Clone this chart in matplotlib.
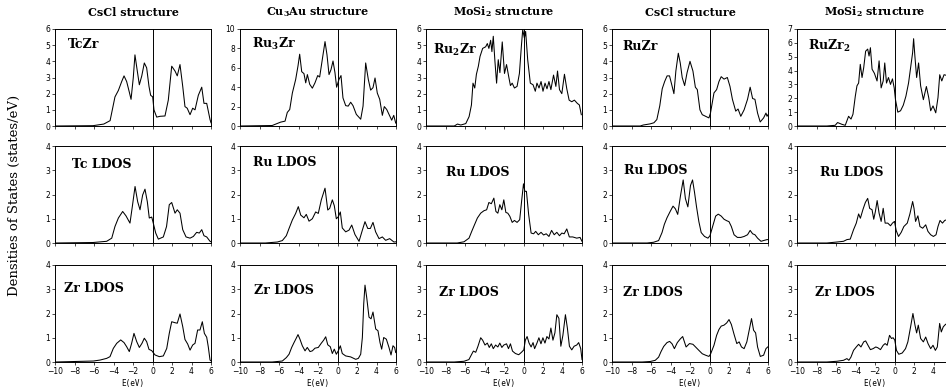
import matplotlib
matplotlib.use("Agg")
import matplotlib.pyplot as plt

plt.rcParams['mathtext.fontset'] = 'dejavuserif'

# ---------------- text ----------------
col_titles = ['CsCl structure', r'Cu$_\mathbf{3}$Au structure', r'MoSi$_\mathbf{2}$ structure',
              'CsCl structure', r'MoSi$_\mathbf{2}$ structure']
total_labels = ['TcZr', r'Ru$_\mathbf{3}$Zr', r'Ru$_\mathbf{2}$Zr', 'RuZr', r'RuZr$_\mathbf{2}$']
ldos_a_labels = ['Tc LDOS', 'Ru LDOS', 'Ru LDOS', 'Ru LDOS', 'Ru LDOS']
ldos_b_labels = ['Zr LDOS', 'Zr LDOS', 'Zr LDOS', 'Zr LDOS', 'Zr LDOS']
y_label = 'Densities of States (states/eV)'
x_label = 'E(eV)'

total_ymax = [6, 10, 6, 6, 7]
total_ystep = [1, 2, 1, 1, 1]
ldos_ymax = 4
x_ticks = [-10, -8, -6, -4, -2, 0, 2, 4, 6]

# ---------------- data: (E [eV], DOS [states/eV]) ----------------
tczr_total = [(-10, 0), (-6.1, 0.02), (-5.0, 0.12), (-4.35, 0.33), (-3.85, 1.8), (-3.5, 2.2), (-3.16, 2.75),
              (-2.92, 3.1), (-2.65, 2.75), (-2.38, 2.1), (-2.2, 1.65), (-1.97, 3.0), (-1.8, 4.4), (-1.56, 3.4),
              (-1.35, 2.55), (-1.1, 3.1), (-0.84, 3.9), (-0.6, 3.6), (-0.36, 2.45), (-0.19, 1.9), (0.02, 1.8),
              (0.15, 1.0), (0.43, 0.55), (0.77, 0.6), (1.28, 0.62), (1.62, 1.6), (1.97, 3.7), (2.31, 3.4),
              (2.54, 3.1), (2.82, 3.8), (3.1, 2.45), (3.33, 1.2), (3.56, 1.1), (3.85, 0.7), (4.12, 1.1),
              (4.36, 1.0), (4.7, 1.9), (5.05, 2.4), (5.28, 1.4), (5.56, 1.4), (5.9, 0.4), (6.0, 0.2)]
ru3zr_total = [(-10, 0), (-6.7, 0.05), (-5.83, 0.4), (-5.38, 0.5), (-5.15, 1.4), (-4.9, 1.7), (-4.63, 3.4),
               (-4.29, 4.8), (-4.05, 6.2), (-3.88, 7.4), (-3.67, 5.6), (-3.44, 5.4), (-3.26, 4.45), (-3.09, 5.3),
               (-2.85, 4.3), (-2.58, 3.9), (-2.31, 4.45), (-2.03, 5.2), (-1.83, 5.05), (-1.56, 6.85),
               (-1.28, 8.7), (-1.08, 7.35), (-0.87, 5.3), (-0.67, 5.8), (-0.46, 6.7), (-0.26, 5.5),
               (-0.09, 4.0), (0.15, 4.8), (0.36, 5.2), (0.56, 2.9), (0.84, 2.1), (1.1, 2.05), (1.35, 2.45),
               (1.59, 2.1), (1.93, 1.2), (2.38, 0.7), (2.62, 2.05), (2.89, 6.5), (3.16, 4.8), (3.4, 3.7),
               (3.64, 3.95), (3.85, 4.95), (4.08, 3.4), (4.33, 2.75), (4.6, 1.1), (4.8, 2.0), (5.05, 1.7),
               (5.28, 1.2), (5.56, 0.6), (5.77, 1.1), (5.97, 0.3)]
ru2zr_total = [(-10, 0), (-7.1, 0), (-6.77, 0.12), (-6.43, 0.06), (-5.92, 0.15), (-5.58, 0.58), (-5.34, 1.3),
               (-5.18, 2.65), (-5.0, 2.35), (-4.83, 3.2), (-4.63, 3.7), (-4.46, 4.3), (-4.19, 4.8),
               (-3.88, 4.9), (-3.71, 5.1), (-3.55, 4.8), (-3.37, 5.3), (-3.24, 4.6), (-3.1, 5.55),
               (-2.93, 4.0), (-2.76, 2.65), (-2.59, 4.1), (-2.42, 3.3), (-2.18, 5.2), (-1.95, 3.25),
               (-1.74, 3.8), (-1.5, 3.0), (-1.34, 2.5), (-1.16, 2.65), (-0.93, 2.35), (-0.66, 2.45),
               (-0.42, 3.25), (-0.21, 5.0), (-0.08, 5.95), (0.09, 5.45), (0.22, 5.85), (0.43, 4.1),
               (0.7, 2.65), (0.98, 2.55), (1.21, 2.15), (1.38, 2.65), (1.59, 2.35), (1.8, 2.75), (2.0, 2.15),
               (2.21, 2.65), (2.41, 2.3), (2.61, 2.75), (2.81, 2.25), (3.08, 3.15), (3.32, 2.45), (3.49, 3.4),
               (3.69, 2.25), (3.93, 2.0), (4.2, 3.2), (4.44, 2.3), (4.68, 1.6), (4.95, 1.5), (5.22, 1.6),
               (5.52, 1.4), (5.73, 1.3), (5.93, 0.7)]
ruzr_total = [(-10, 0), (-7.1, 0), (-6.8, 0.06), (-6.1, 0.13), (-5.7, 0.2), (-5.4, 0.4), (-5.1, 1.25),
              (-4.85, 2.3), (-4.6, 2.75), (-4.35, 3.1), (-4.1, 3.1), (-3.85, 2.5), (-3.65, 2.0), (-3.45, 3.4),
              (-3.2, 4.5), (-3.0, 3.9), (-2.8, 3.0), (-2.55, 2.5), (-2.3, 3.3), (-2.0, 4.0), (-1.7, 3.4),
              (-1.45, 2.4), (-1.25, 2.25), (-0.98, 1.0), (-0.74, 0.7), (-0.4, 0.6), (-0.06, 0.5), (0.1, 0.8),
              (0.46, 2.05), (0.73, 2.25), (0.97, 2.75), (1.2, 3.05), (1.49, 2.9), (1.83, 3.0), (2.1, 2.45),
              (2.35, 1.65), (2.69, 0.92), (2.93, 1.05), (3.21, 0.6), (3.55, 1.0), (3.9, 1.65), (4.17, 2.4),
              (4.42, 1.7), (4.66, 1.65), (4.93, 0.8), (5.2, 0.25), (5.55, 0.5), (5.79, 0.8), (5.9, 0.6),
              (6.0, 0.7)]
ruzr2_total = [(-10, 0), (-6.94, 0), (-6.08, 0.05), (-5.84, 0.25), (-5.39, 0.12), (-5.05, 0.05), (-4.71, 0.7),
               (-4.46, 0.5), (-4.26, 0.85), (-4.02, 2.15), (-3.85, 2.9), (-3.68, 3.1), (-3.51, 4.45),
               (-3.33, 3.5), (-3.16, 4.2), (-2.96, 5.4), (-2.75, 5.55), (-2.61, 5.05), (-2.47, 5.65),
               (-2.3, 4.1), (-2.06, 3.8), (-1.79, 3.25), (-1.58, 4.7), (-1.37, 2.75), (-1.16, 3.25),
               (-1.0, 4.55), (-0.82, 3.1), (-0.62, 3.5), (-0.41, 3.0), (-0.21, 3.4), (-0.03, 2.75), (0.1, 1.9),
               (0.34, 1.0), (0.62, 1.1), (0.9, 1.5), (1.17, 2.15), (1.44, 3.1), (1.65, 4.2), (1.86, 5.3),
               (1.96, 6.3), (2.09, 5.05), (2.27, 3.5), (2.47, 4.55), (2.68, 2.9), (2.96, 1.9), (3.27, 2.85),
               (3.51, 2.05), (3.71, 1.1), (3.95, 1.45), (4.23, 0.95), (4.46, 2.05), (4.64, 3.7), (4.85, 3.25),
               (5.08, 3.7), (5.36, 3.65), (5.7, 3.3), (6.0, 2.8)]

tc_ldos_tczr = [(-10, 0), (-6.1, 0.02), (-4.7, 0.07), (-4.18, 0.2), (-3.85, 0.68), (-3.5, 1.03), (-3.06, 1.3),
                (-2.72, 1.12), (-2.31, 0.82), (-2.07, 1.5), (-1.79, 2.33), (-1.52, 1.7), (-1.28, 1.37),
                (-1.01, 1.98), (-0.77, 2.22), (-0.53, 1.7), (-0.33, 1.03), (-0.08, 1.07), (0.08, 0.82),
                (0.33, 0.41), (0.6, 0.16), (1.11, 0.25), (1.44, 0.68), (1.72, 1.58), (1.97, 1.67), (2.31, 1.23),
                (2.54, 1.37), (2.82, 1.23), (3.1, 0.55), (3.44, 0.25), (3.85, 0.2), (4.19, 0.27), (4.53, 0.44),
                (4.8, 0.41), (5.05, 0.55), (5.28, 0.3), (5.56, 0.25), (5.9, 0.07), (6.0, 0.05)]
ru_ldos_ru3zr = [(-10, 0), (-7.4, 0), (-6.17, 0.04), (-5.66, 0.1), (-5.25, 0.3), (-4.97, 0.6), (-4.63, 0.95),
                 (-4.29, 1.22), (-4.02, 1.5), (-3.77, 1.15), (-3.44, 1.04), (-3.2, 1.18), (-2.92, 0.9),
                 (-2.58, 1.0), (-2.24, 1.28), (-1.97, 1.22), (-1.66, 1.78), (-1.28, 2.26), (-1.0, 1.36),
                 (-0.8, 1.43), (-0.53, 1.78), (-0.33, 1.54), (-0.12, 1.0), (0.08, 1.08), (0.29, 1.28),
                 (0.49, 0.62), (0.84, 0.46), (1.18, 0.53), (1.46, 0.74), (1.79, 0.35), (2.21, 0.07),
                 (2.55, 0.53), (2.82, 0.88), (3.1, 0.6), (3.37, 0.6), (3.64, 0.85), (3.91, 0.46), (4.26, 0.18),
                 (4.6, 0.25), (4.94, 0.11), (5.35, 0.18), (5.79, 0.04), (6.0, 0.05)]
ru_ldos_ru2zr = [(-10, 0), (-6.8, 0), (-6.1, 0.05), (-5.59, 0.2), (-5.31, 0.48), (-5.07, 0.71), (-4.73, 1.03),
                 (-4.39, 1.23), (-4.06, 1.33), (-3.78, 1.37), (-3.55, 1.67), (-3.3, 1.62), (-3.04, 1.85),
                 (-2.83, 1.3), (-2.63, 1.23), (-2.43, 1.58), (-2.22, 1.37), (-2.02, 1.78), (-1.81, 1.26),
                 (-1.61, 1.23), (-1.4, 1.1), (-1.16, 0.85), (-0.93, 0.93), (-0.66, 0.85), (-0.39, 0.96),
                 (-0.18, 1.78), (0.0, 2.44), (0.14, 2.13), (0.3, 2.13), (0.53, 1.17), (0.78, 0.41), (1.04, 0.38),
                 (1.25, 0.48), (1.52, 0.34), (1.8, 0.44), (2.06, 0.33), (2.33, 0.38), (2.61, 0.27), (2.88, 0.52),
                 (3.15, 0.34), (3.42, 0.44), (3.69, 0.3), (3.93, 0.41), (4.17, 0.38), (4.44, 0.58), (4.7, 0.25),
                 (5.05, 0.25), (5.46, 0.2), (5.8, 0.23), (6.0, 0.07)]
ru_ldos_ruzr = [(-10, 0), (-6.4, 0), (-5.74, 0.03), (-5.22, 0.1), (-4.87, 0.43), (-4.63, 0.77), (-4.36, 1.04),
                (-4.01, 1.32), (-3.74, 1.52), (-3.5, 1.41), (-3.26, 1.18), (-2.98, 1.94), (-2.7, 2.6),
                (-2.47, 1.83), (-2.22, 1.49), (-1.95, 2.37), (-1.74, 2.6), (-1.54, 2.1), (-1.33, 1.49),
                (-1.09, 0.88), (-0.85, 0.43), (-0.51, 0.27), (-0.16, 0.2), (0.05, 0.3), (0.32, 0.68),
                (0.63, 1.11), (0.9, 1.19), (1.2, 1.11), (1.49, 0.98), (1.76, 0.92), (2.0, 0.88), (2.24, 0.68),
                (2.52, 0.34), (2.86, 0.23), (3.21, 0.23), (3.55, 0.27), (3.9, 0.34), (4.17, 0.52), (4.42, 0.38),
                (4.66, 0.34), (4.93, 0.2), (5.28, 0.07), (5.62, 0.11), (5.9, 0.14), (6.0, 0.14)]
ru_ldos_ruzr2 = [(-10, 0), (-6.94, 0), (-5.91, 0.04), (-5.23, 0.07), (-4.88, 0.14), (-4.54, 0.16), (-4.2, 0.55),
                 (-3.92, 0.82), (-3.68, 1.2), (-3.5, 1.02), (-3.23, 1.39), (-2.99, 1.67), (-2.75, 1.84),
                 (-2.55, 1.43), (-2.3, 1.37), (-2.13, 0.98), (-1.96, 1.3), (-1.78, 1.75), (-1.58, 1.23),
                 (-1.37, 0.89), (-1.16, 1.43), (-0.96, 0.82), (-0.69, 0.82), (-0.41, 0.71), (-0.21, 0.82),
                 (0.0, 0.89), (0.17, 0.52), (0.41, 0.27), (0.69, 0.44), (0.96, 0.68), (1.31, 0.82), (1.58, 1.2),
                 (1.86, 1.71), (2.0, 1.43), (2.16, 0.89), (2.4, 1.12), (2.61, 0.68), (2.89, 0.61), (3.2, 0.75),
                 (3.43, 0.48), (3.71, 0.34), (3.99, 0.27), (4.26, 0.34), (4.46, 0.68), (4.67, 0.93), (4.92, 0.82),
                 (5.15, 0.93), (5.36, 0.96), (5.7, 0.9), (6.0, 0.8)]

zr_ldos_tczr = [(-10, 0), (-6.07, 0.04), (-5.38, 0.08), (-4.7, 0.15), (-4.36, 0.22), (-4.02, 0.56), (-3.67, 0.77),
                (-3.26, 0.91), (-2.92, 0.8), (-2.65, 0.63), (-2.38, 0.43), (-2.14, 0.77), (-1.9, 1.18),
                (-1.62, 0.84), (-1.35, 0.6), (-1.08, 0.77), (-0.84, 0.98), (-0.6, 0.84), (-0.36, 0.52),
                (-0.08, 0.47), (0.26, 0.29), (0.7, 0.22), (1.11, 0.25), (1.46, 0.56), (1.72, 1.18), (1.97, 1.66),
                (2.31, 1.62), (2.54, 1.6), (2.82, 1.98), (3.1, 1.46), (3.33, 0.93), (3.61, 0.74), (3.85, 0.49),
                (4.12, 0.7), (4.36, 0.77), (4.63, 1.32), (4.87, 1.32), (5.11, 1.66), (5.32, 1.18), (5.56, 1.02),
                (5.72, 0.63), (5.9, 0.08), (6.0, 0.05)]
zr_ldos_ru3zr = [(-10, 0), (-6.7, 0), (-5.66, 0.04), (-5.25, 0.18), (-4.97, 0.32), (-4.7, 0.6), (-4.46, 0.8),
                 (-4.22, 0.99), (-4.05, 1.13), (-3.85, 0.94), (-3.61, 0.67), (-3.33, 0.46), (-3.1, 0.6),
                 (-2.82, 0.43), (-2.58, 0.46), (-2.31, 0.57), (-1.97, 0.6), (-1.69, 0.76), (-1.42, 0.9),
                 (-1.21, 1.04), (-1.0, 0.71), (-0.74, 0.63), (-0.53, 0.35), (-0.33, 0.53), (-0.12, 0.32),
                 (0.08, 0.46), (0.29, 0.67), (0.49, 0.35), (0.84, 0.25), (1.35, 0.21), (1.87, 0.11), (2.14, 0.15),
                 (2.38, 0.32), (2.55, 1.01), (2.69, 2.4), (2.82, 3.17), (2.99, 2.68), (3.23, 1.85), (3.44, 1.78),
                 (3.64, 2.06), (3.92, 1.36), (4.15, 1.29), (4.36, 0.8), (4.53, 0.53), (4.74, 1.01), (5.01, 0.94),
                 (5.28, 0.6), (5.49, 0.29), (5.69, 0.67), (5.86, 0.6), (5.97, 0.39)]
zr_ldos_ru2zr = [(-10, 0), (-7.1, 0), (-6.1, 0.03), (-5.6, 0.1), (-5.34, 0.3), (-5.14, 0.45), (-4.9, 0.4),
                 (-4.67, 0.65), (-4.39, 1.0), (-4.19, 0.9), (-3.95, 0.7), (-3.71, 0.78), (-3.51, 0.6), (-3.3, 0.75),
                 (-3.1, 0.55), (-2.86, 0.7), (-2.63, 0.62), (-2.43, 0.78), (-2.22, 0.6), (-2.02, 0.7),
                 (-1.74, 0.75), (-1.54, 0.55), (-1.34, 0.75), (-1.13, 0.45), (-0.83, 0.35), (-0.49, 0.3),
                 (-0.21, 0.4), (0.03, 0.5), (0.19, 0.9), (0.37, 1.05), (0.57, 0.78), (0.78, 0.62), (0.98, 0.8),
                 (1.14, 0.55), (1.38, 0.78), (1.58, 1.0), (1.79, 0.75), (1.99, 1.0), (2.2, 0.78), (2.4, 1.05),
                 (2.61, 0.95), (2.81, 1.4), (3.02, 0.9), (3.22, 1.2), (3.42, 1.95), (3.63, 1.8), (3.83, 0.65),
                 (4.04, 1.1), (4.3, 1.95), (4.5, 1.4), (4.71, 0.65), (4.95, 0.5), (5.19, 0.65), (5.46, 0.7),
                 (5.66, 0.8), (5.87, 0.55), (6.0, 0.1)]
zr_ldos_ruzr = [(-10, 0), (-6.9, 0), (-6.08, 0.02), (-5.56, 0.07), (-5.22, 0.2), (-4.97, 0.43), (-4.7, 0.64),
                (-4.36, 0.8), (-4.09, 0.85), (-3.84, 0.75), (-3.6, 0.55), (-3.3, 0.8), (-3.0, 0.95),
                (-2.75, 1.05), (-2.4, 0.62), (-2.05, 0.76), (-1.7, 0.73), (-1.43, 0.62), (-1.09, 0.48),
                (-0.74, 0.34), (-0.4, 0.28), (-0.06, 0.23), (0.1, 0.32), (0.46, 0.69), (0.73, 1.1), (0.97, 1.34),
                (1.2, 1.48), (1.49, 1.52), (1.76, 1.61), (2.0, 1.75), (2.24, 1.55), (2.52, 1.14), (2.8, 0.76),
                (3.04, 0.83), (3.28, 0.62), (3.55, 0.55), (3.83, 0.83), (4.07, 1.31), (4.31, 1.79), (4.52, 1.31),
                (4.73, 1.2), (4.93, 0.62), (5.21, 0.23), (5.55, 0.28), (5.79, 0.55), (5.97, 0.62)]
zr_ldos_ruzr2 = [(-10, 0), (-6.94, 0), (-5.91, 0.03), (-5.23, 0.07), (-4.88, 0.14), (-4.68, 0.07), (-4.47, 0.2),
                 (-4.2, 0.48), (-3.92, 0.62), (-3.68, 0.73), (-3.44, 0.62), (-3.16, 0.83), (-2.96, 0.87),
                 (-2.72, 0.69), (-2.47, 0.51), (-2.2, 0.55), (-1.92, 0.62), (-1.72, 0.59), (-1.44, 0.51),
                 (-1.16, 0.69), (-0.96, 0.76), (-0.75, 0.69), (-0.51, 1.1), (-0.31, 0.97), (-0.14, 1.0),
                 (0.03, 0.9), (0.2, 0.48), (0.44, 0.32), (0.79, 0.37), (1.13, 0.55), (1.37, 0.83), (1.65, 1.45),
                 (1.89, 2.0), (2.1, 1.52), (2.27, 1.2), (2.44, 1.52), (2.68, 0.97), (2.96, 0.83), (3.2, 1.03),
                 (3.44, 0.76), (3.71, 0.55), (3.95, 0.69), (4.19, 0.48), (4.39, 0.62), (4.63, 1.59), (4.8, 1.24),
                 (5.0, 1.45), (5.25, 1.56), (5.6, 1.5), (6.0, 1.3)]

rows_data = [
    [tczr_total, ru3zr_total, ru2zr_total, ruzr_total, ruzr2_total],
    [tc_ldos_tczr, ru_ldos_ru3zr, ru_ldos_ru2zr, ru_ldos_ruzr, ru_ldos_ruzr2],
    [zr_ldos_tczr, zr_ldos_ru3zr, zr_ldos_ru2zr, zr_ldos_ruzr, zr_ldos_ruzr2],
]
rows_labels = [total_labels, ldos_a_labels, ldos_b_labels]

# ---------------- layout (pixels) ----------------
W, H = 946, 391
col_left = [55, 240, 426, 612, 797]
row_top = [29, 146, 265]
ax_w, ax_h = 156, 97
label_dx = [[13, 12, 7, 10, 11], [17, 13, 20, 12, 23], [9, 14, 13, 11, 18]]
label_y = [[45, 44, 50, 47, 46], [164, 163, 172, 171, 173], [289, 290, 293, 292, 293]]

fig = plt.figure(figsize=(W / 100, H / 100), dpi=100)
serif = 'DejaVu Serif'

for r in range(3):
    for c in range(5):
        ax = fig.add_axes([col_left[c] / W, 1 - (row_top[r] + ax_h) / H, ax_w / W, ax_h / H])
        e, d = zip(*rows_data[r][c])
        ax.plot(e, d, color='black', lw=0.75)
        ax.axvline(0, color='black', lw=0.7)
        ax.set_xlim(-10, 6)
        if r == 0:
            ymax, step = total_ymax[c], total_ystep[c]
        else:
            ymax, step = ldos_ymax, 1
        ax.set_ylim(0, ymax)
        ax.set_yticks(list(range(0, ymax + 1, step)))
        ax.set_xticks(x_ticks)
        ax.tick_params(direction='out', length=2, width=0.5, labelsize=5.5, pad=1.5, colors='black')
        if r == 2:
            # the rightmost panel is cropped at the figure edge in the reference
            xt_labels = [f'{t}'.replace('-', '\u2212') for t in x_ticks]
            if c == 4:
                xt_labels[-1] = ''
            ax.set_xticklabels(xt_labels)
            ax.set_xlabel(x_label, fontsize=5.5, labelpad=2, family='DejaVu Sans Mono')
        else:
            ax.tick_params(axis='x', labelbottom=False)
        for s in ax.spines.values():
            s.set_linewidth(0.7)
        ax.text(label_dx[r][c] / ax_w, 1 - (label_y[r][c] - row_top[r]) / ax_h, rows_labels[r][c],
                transform=ax.transAxes, ha='left', va='center', fontsize=9, fontweight='bold', family=serif)

for c in range(5):
    fig.text((col_left[c] + ax_w / 2) / W, 1 - 12 / H, col_titles[c], ha='center', va='center',
             fontsize=8, fontweight='bold', family=serif)

fig.text(14 / W, 0.5, y_label, rotation=90, ha='center', va='center', fontsize=9.5, family=serif)

fig.savefig('out.png', dpi=100)
